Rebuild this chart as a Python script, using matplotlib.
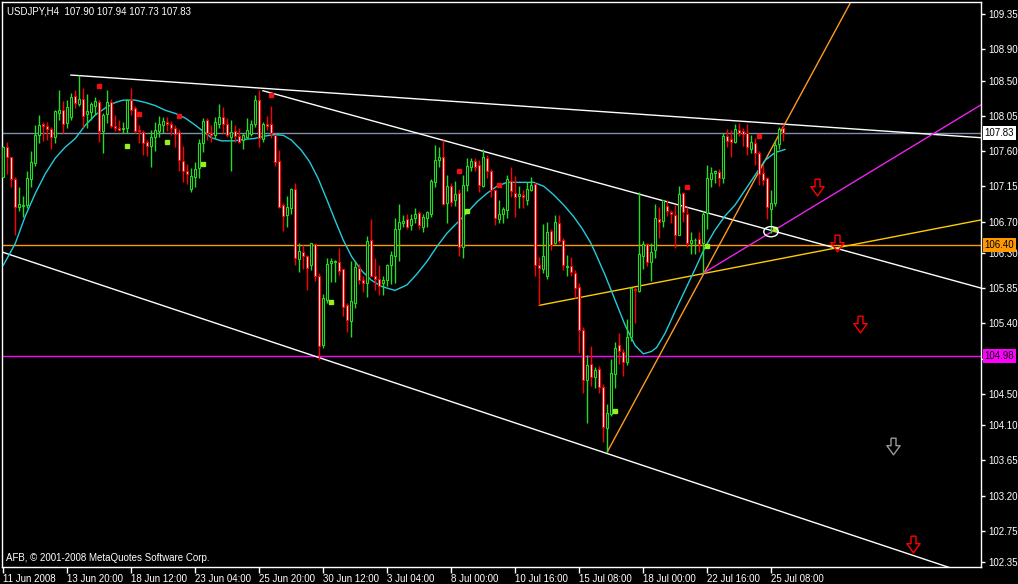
import numpy as np
import matplotlib.pyplot as plt
from matplotlib.patches import Ellipse
from matplotlib.path import Path

plt.rcParams['font.family'] = ['Liberation Sans', 'DejaVu Sans']

# USDJPY H4 bars, 11 Jun 2008 .. 25 Jul 2008 20:00
opens = [107.27, 107.65, 107.52, 107.24, 106.89, 106.90, 106.91, 107.24, 107.45, 107.80,
         107.94, 107.92, 107.88, 107.78, 108.09, 108.12, 107.96, 108.03, 108.30, 108.20,
         108.27, 108.07, 108.10, 108.17, 108.22, 107.85, 108.07, 108.23, 107.92, 107.89,
         107.88, 107.89, 108.25, 108.15, 107.87, 107.84, 107.71, 107.67, 107.78, 107.85,
         107.93, 107.97, 107.95, 107.90, 107.84, 107.47, 107.34, 107.11, 107.27, 107.38,
         107.70, 107.99, 107.83, 107.80, 107.95, 108.04, 107.95, 107.78, 107.86, 107.79,
         107.74, 107.78, 107.82, 107.95, 108.25, 107.75, 107.95, 107.94, 107.80, 107.47,
         106.91, 106.78, 106.87, 107.12, 106.22, 106.31, 106.26, 106.14, 106.41, 106.00,
         105.12, 105.70, 106.17, 106.18, 106.18, 106.09, 105.63, 105.43, 105.66, 106.11,
         105.95, 105.91, 106.46, 106.00, 105.97, 105.91, 105.95, 106.14, 106.26, 106.60,
         106.68, 106.73, 106.65, 106.74, 106.81, 106.63, 106.74, 106.80, 107.20, 107.49,
         107.53, 106.93, 107.15, 106.97, 107.06, 106.37, 107.17, 107.39, 107.47, 107.42,
         107.15, 107.51, 107.35, 107.10, 106.73, 106.80, 106.85, 107.22, 107.06, 107.02,
         107.04, 106.98, 107.10, 107.18, 106.14, 106.09, 106.00, 106.58, 106.42, 106.68,
         106.46, 106.12, 106.13, 106.04, 105.86, 105.32, 104.67, 104.88, 104.72, 104.82,
         104.59, 104.06, 104.24, 104.75, 105.12, 105.03, 104.90, 105.22, 105.84, 105.81,
         106.26, 106.41, 106.18, 106.33, 106.73, 106.71, 106.90, 106.82, 106.78, 106.53,
         107.06, 106.80, 106.43, 106.46, 106.48, 106.42, 106.81, 107.24, 107.32, 107.33,
         107.25, 107.79, 107.75, 107.72, 107.87, 107.85, 107.83, 107.63, 107.70, 107.58,
         107.32, 107.25, 106.86, 106.94, 107.69, 107.90]
highs = [107.67, 107.72, 107.53, 107.27, 107.14, 107.02, 107.34, 107.60, 107.93, 108.06,
         107.97, 107.97, 107.91, 108.12, 108.38, 108.24, 108.25, 108.34, 108.38, 108.57,
         108.40, 108.33, 108.23, 108.29, 108.25, 108.08, 108.38, 108.27, 108.06, 107.99,
         107.97, 108.27, 108.41, 108.17, 107.93, 107.87, 107.74, 107.87, 107.97, 108.05,
         108.04, 108.04, 107.98, 107.93, 107.88, 107.66, 107.43, 107.38, 107.46, 107.75,
         108.02, 108.02, 107.93, 108.03, 108.20, 108.16, 108.02, 108.00, 107.93, 107.89,
         107.83, 108.02, 108.00, 108.32, 108.38, 107.97, 108.05, 108.17, 107.82, 107.61,
         106.93, 107.02, 107.13, 107.19, 106.42, 106.40, 106.27, 106.43, 106.43, 106.04,
         105.77, 106.23, 106.23, 106.21, 106.36, 106.09, 105.66, 106.19, 106.19, 106.16,
         106.00, 106.51, 106.73, 106.24, 106.14, 106.00, 106.16, 106.32, 106.75, 106.92,
         106.78, 106.80, 106.80, 106.87, 106.83, 106.80, 106.83, 107.24, 107.68, 107.65,
         107.74, 107.29, 107.19, 107.22, 107.11, 107.29, 107.51, 107.51, 107.51, 107.49,
         107.63, 107.55, 107.37, 107.12, 106.97, 106.89, 107.29, 107.39, 107.28, 107.15,
         107.10, 107.21, 107.27, 107.20, 106.25, 106.67, 106.70, 106.61, 106.78, 106.78,
         106.49, 106.27, 106.25, 106.08, 105.92, 105.35, 105.00, 105.11, 104.84, 104.85,
         104.62, 104.37, 104.95, 105.16, 105.27, 105.07, 105.46, 105.86, 105.86, 107.08,
         106.45, 106.42, 106.43, 106.92, 106.89, 106.98, 106.97, 106.85, 106.91, 107.15,
         107.08, 106.89, 106.56, 106.49, 106.56, 106.83, 107.42, 107.39, 107.36, 107.37,
         107.83, 107.88, 107.87, 107.95, 107.96, 107.90, 107.95, 107.81, 107.76, 107.60,
         107.42, 107.27, 107.10, 107.74, 107.91, 107.94]
lows = [107.27, 107.31, 107.14, 106.53, 106.83, 106.76, 106.87, 107.14, 107.41, 107.70,
        107.73, 107.74, 107.63, 107.70, 107.99, 107.83, 107.89, 107.99, 108.15, 108.17,
        107.91, 107.89, 108.00, 108.06, 107.72, 107.58, 107.96, 107.89, 107.85, 107.85,
        107.83, 107.83, 108.06, 107.83, 107.70, 107.55, 107.54, 107.39, 107.60, 107.78,
        107.83, 107.85, 107.80, 107.65, 107.34, 107.21, 107.18, 107.08, 107.14, 107.25,
        107.59, 107.74, 107.72, 107.76, 107.89, 107.83, 107.78, 107.34, 107.72, 107.70,
        107.63, 107.76, 107.79, 107.91, 107.65, 107.71, 107.87, 107.77, 107.41, 106.87,
        106.58, 106.63, 106.80, 106.14, 106.05, 106.09, 105.82, 106.08, 105.94, 104.93,
        105.09, 105.66, 105.93, 105.93, 106.02, 105.49, 105.29, 105.22, 105.59, 105.90,
        105.80, 105.74, 105.99, 105.82, 105.76, 105.76, 105.88, 105.90, 105.91, 106.19,
        106.63, 106.60, 106.59, 106.68, 106.60, 106.57, 106.63, 106.76, 107.14, 107.39,
        106.91, 106.68, 106.90, 106.90, 106.26, 106.23, 107.09, 107.34, 107.35, 107.08,
        107.14, 107.25, 107.01, 106.66, 106.68, 106.68, 106.75, 107.01, 106.76, 106.87,
        106.87, 106.91, 107.09, 106.00, 105.63, 106.04, 105.97, 106.33, 106.41, 106.42,
        106.08, 106.01, 106.00, 105.72, 105.02, 104.51, 104.13, 104.60, 104.57, 104.51,
        103.89, 103.76, 104.21, 104.58, 104.88, 104.73, 104.87, 105.18, 105.41, 105.80,
        106.09, 106.13, 105.94, 106.23, 106.49, 106.63, 106.77, 106.68, 106.36, 106.53,
        106.69, 106.38, 106.29, 106.29, 106.31, 106.04, 106.60, 107.14, 107.19, 107.15,
        107.19, 107.65, 107.53, 107.70, 107.79, 107.66, 107.55, 107.57, 107.42, 107.17,
        107.17, 106.73, 106.55, 106.90, 107.63, 107.73]
closes = [107.65, 107.53, 107.24, 106.88, 106.92, 106.91, 107.25, 107.46, 107.80, 107.93,
          107.92, 107.88, 107.78, 108.11, 108.13, 107.95, 108.16, 108.29, 108.21, 108.26,
          108.05, 108.11, 108.20, 108.24, 107.86, 108.06, 108.22, 107.92, 107.89, 107.87,
          107.89, 108.25, 108.13, 107.85, 107.85, 107.70, 107.66, 107.78, 107.87, 107.94,
          107.98, 107.95, 107.89, 107.82, 107.48, 107.35, 107.31, 107.28, 107.37, 107.70,
          107.98, 107.83, 107.80, 107.97, 108.03, 107.94, 107.80, 107.84, 107.79, 107.72,
          107.80, 107.87, 107.94, 108.25, 107.77, 107.94, 107.92, 107.83, 107.46, 106.89,
          106.77, 106.88, 107.12, 106.23, 106.32, 106.26, 106.11, 106.42, 106.00, 105.11,
          105.72, 106.16, 106.19, 106.19, 106.07, 105.61, 105.44, 105.68, 106.12, 105.95,
          105.92, 106.45, 106.00, 105.97, 105.88, 105.95, 106.14, 106.27, 106.61, 106.69,
          106.71, 106.63, 106.73, 106.79, 106.66, 106.76, 106.82, 107.22, 107.49, 107.52,
          106.92, 107.15, 106.95, 107.05, 106.38, 107.17, 107.41, 107.47, 107.40, 107.17,
          107.52, 107.35, 107.10, 106.74, 106.80, 106.86, 107.24, 107.09, 107.01, 107.05,
          107.01, 107.12, 107.17, 106.14, 106.10, 106.26, 106.56, 106.40, 106.69, 106.45,
          106.14, 106.13, 106.05, 105.85, 105.31, 104.67, 104.87, 104.72, 104.80, 104.59,
          104.07, 104.26, 104.76, 105.09, 105.04, 104.90, 105.23, 105.85, 105.82, 106.28,
          106.41, 106.18, 106.31, 106.74, 106.69, 106.97, 106.83, 106.79, 106.53, 107.05,
          106.82, 106.42, 106.47, 106.47, 106.41, 106.80, 107.25, 107.32, 107.34, 107.26,
          107.79, 107.73, 107.71, 107.88, 107.83, 107.82, 107.65, 107.71, 107.57, 107.31,
          107.23, 106.88, 106.93, 107.68, 107.88, 107.83]

# smoothed average (cyan), sampled along the chart
ma_bar = [0, 3, 5.5, 8, 10.5, 13, 15.5, 18, 20.5, 23, 25.5, 28, 30, 33, 35.5, 38, 40.5, 43,
          45.5, 48, 50, 52, 54.5, 57.8, 60.3, 62.8, 65.3, 67.8, 70, 72, 74.5, 76.6, 78.7,
          80.8, 82.9, 85, 87.1, 89.6, 92, 94.6, 97.9, 100.9, 103.4, 105.9, 108.4, 110.9,
          113.4, 115.9, 118.4, 120.9, 123.4, 125.9, 128.4, 132.6, 135.1, 137.6, 140.1,
          142.6, 144.7, 146.8, 147.9, 150.4, 152.9, 155.4, 157.9, 160, 162, 163.3, 165.4,
          167.9, 170.4, 172.9, 175.4, 177.9, 180.4, 182.9, 185.4, 187.9, 190.4, 192.9, 195.4]
ma_val = [106.14, 106.42, 106.77, 107.06, 107.31, 107.51, 107.65, 107.76, 107.93, 108.06,
          108.15, 108.22, 108.25, 108.25, 108.22, 108.18, 108.12, 108.08, 108.02, 107.93,
          107.85, 107.77, 107.73, 107.73, 107.75, 107.76, 107.79, 107.81, 107.80, 107.74,
          107.61, 107.46, 107.25, 106.99, 106.72, 106.46, 106.25, 106.07, 105.95, 105.87,
          105.82, 105.89, 106.03, 106.19, 106.38, 106.55, 106.68, 106.81, 106.95, 107.06,
          107.15, 107.20, 107.20, 107.20, 107.15, 107.04, 106.91, 106.76, 106.61, 106.43,
          106.31, 106.02, 105.70, 105.38, 105.12, 105.01, 105.04, 105.09, 105.27, 105.55,
          105.82, 106.09, 106.37, 106.59, 106.77, 106.91, 107.10, 107.29, 107.48, 107.58,
          107.62]

# fractal-like dots
up_bars = [24, 34, 44, 67, 114, 124, 171, 189]
up_prices = [108.43, 108.07, 108.05, 108.32, 107.35, 107.17, 107.14, 107.79]
dn_bars = [31, 41, 50, 82, 116, 153, 176, 193]
dn_prices = [107.67, 107.71, 107.44, 105.67, 106.83, 104.28, 106.39, 106.60]

# trendlines: (bar0, price0, bar1, price1, colour)
trendlines = [
    (16.9, 108.57, 244.4, 107.77, 'white'),
    (64.9, 108.37, 244.4, 105.85, 'white'),
    (-0.3, 106.31, 235.4, 102.30, 'white'),
    (151, 103.76, 195.4, 107.95, '#ff9922'),
    (134, 105.63, 244.4, 106.72, '#ffcc00'),
    (175, 106.04, 244.4, 108.19, '#ee22ee'),
]
hlines = [(107.83, '#7f8fa6', 'white'), (106.40, '#ff9900', '#ff9900'), (104.98, '#ff00ff', '#ff00ff')]

arrow_bars = [203.5, 208.5, 214.2, 222.4, 227.4]
arrow_prices = [107.14, 106.42, 105.39, 103.83, 102.58]
arrow_colors = ['red', 'red', 'red', '#999999', 'red']

tick_bars = [0, 16, 32, 48, 64, 80, 96, 112, 128, 144, 160, 176, 192]
tick_labels = ['11 Jun 2008', '13 Jun 20:00', '18 Jun 12:00', '23 Jun 04:00', '25 Jun 20:00',
               '30 Jun 12:00', '3 Jul 04:00', '8 Jul 00:00', '10 Jul 16:00', '15 Jul 08:00',
               '18 Jul 00:00', '22 Jul 16:00', '25 Jul 08:00']
price_ticks = [109.35, 108.90, 108.50, 108.05, 107.60, 107.15, 106.70, 106.30, 105.85, 105.40,
               104.95, 104.50, 104.10, 103.65, 103.20, 102.75, 102.35]
hidden_ticks = [104.95]  # covered by the 104.98 price label

fig = plt.figure(figsize=(10.18, 5.84), dpi=100, facecolor='black')
ax = fig.add_axes([2/1018, 17/584, 979/1018, 565/584])
ax.set_facecolor('black')
xmin, xmax = -0.325, 244.4
ax.set_xlim(xmin, xmax)
ax.set_ylim(102.288, 109.503)

# horizontal price lines
for p, c, box in hlines:
    ax.axhline(p, color=c, lw=1, zorder=1)

# trendlines (rays to the right)
for x0, y0, x1, y1, c in trendlines:
    k = (y1 - y0) / (x1 - x0)
    ax.plot([x0, xmax + 5], [y0, y0 + k * (xmax + 5 - x0)], color=c, lw=1, zorder=2)

ax.plot(ma_bar, ma_val, color='#22ccdd', lw=1, zorder=3)

o = np.array(opens); h = np.array(highs); l = np.array(lows); c = np.array(closes)
x = np.arange(len(c))
bull = c >= o
green = '#22dd22'
ax.vlines(x[bull], l[bull], h[bull], color=green, lw=1, zorder=4)
ax.vlines(x[~bull], l[~bull], h[~bull], color='red', lw=1, zorder=4)
body = np.maximum(np.abs(c - o), 0.006)
ax.bar(x[bull], body[bull], bottom=o[bull], width=0.5, color='black', edgecolor=green, lw=0.8, zorder=5)
ax.bar(x[~bull], body[~bull], bottom=c[~bull], width=0.5, color='white', edgecolor='red', lw=0.8, zorder=5)

ax.plot(up_bars, up_prices, 's', color='#ee1111', ms=3, zorder=6)
ax.plot(dn_bars, dn_prices, 's', color='#99ee22', ms=3, zorder=6)

ax.add_patch(Ellipse((191.9, 106.57), 3.6, 0.13, fill=False, ec='white', lw=1, zorder=7))

arrow = Path([(-0.3, 1), (0.3, 1), (0.3, 0.1), (0.8, 0.1), (0, -1), (-0.8, 0.1), (-0.3, 0.1), (-0.3, 1)])
for b, p, col in zip(arrow_bars, arrow_prices, arrow_colors):
    ax.plot(b, p, marker=arrow, ms=12, mfc='none', mec=col, mew=1, zorder=7)

# axis styling
for s in ax.spines.values():
    s.set_color('white')
    s.set_linewidth(1)
ax.yaxis.tick_right()
ax.set_yticks(price_ticks, ['' if v in hidden_ticks else f'{v:.2f}' for v in price_ticks])
ax.set_xticks(tick_bars, tick_labels, ha='left')
ax.tick_params(colors='white', labelsize=7, length=3, width=1, pad=2)
ax.tick_params(axis='x', length=4, pad=1)

for p, c_line, box in hlines:
    ax.annotate(f'{p:.2f}', xy=(1, p), xycoords=('axes fraction', 'data'), xytext=(2.5, 0),
                textcoords='offset points', va='center', ha='left', fontsize=7, color='black',
                bbox=dict(boxstyle='square,pad=0.18', fc=box, ec='none'), zorder=10,
                annotation_clip=False)

fig.text(7/1018, 1 - 11/584, 'USDJPY,H4  107.90 107.94 107.73 107.83', color='white', fontsize=7, va='center')
fig.text(6/1018, 1 - 558/584, 'AFB, \u00a9 2001-2008 MetaQuotes Software Corp.', color='white', fontsize=7, va='center')

fig.savefig('out.png', dpi=100, facecolor='black')
